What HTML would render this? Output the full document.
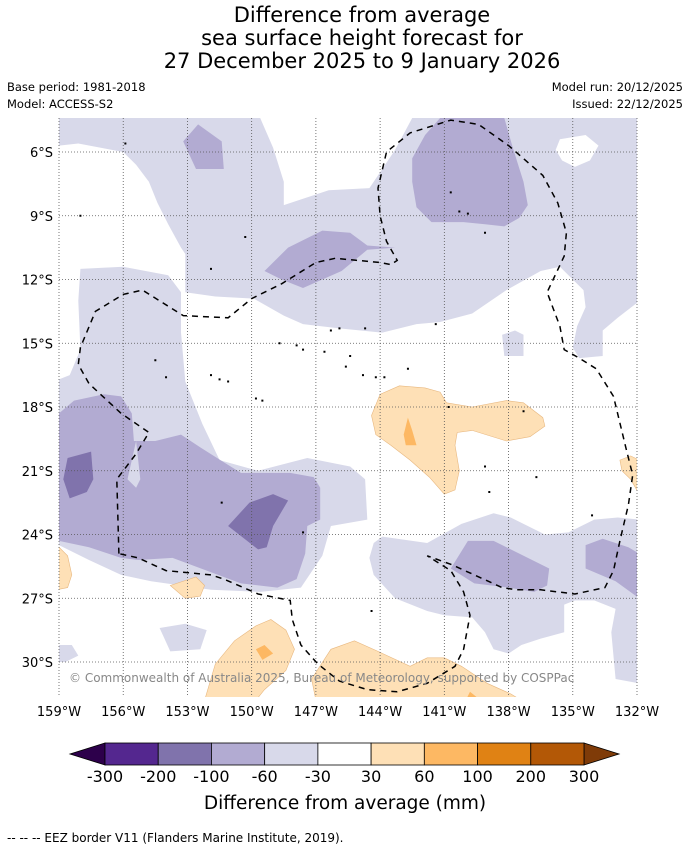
<!DOCTYPE html>
<html><head><meta charset="utf-8">
<style>
html,body{margin:0;padding:0;background:#fff;}
body{width:690px;height:850px;overflow:hidden;position:relative;font-family:"DejaVu Sans","Liberation Sans",sans-serif;}
svg text{font-family:"DejaVu Sans","Liberation Sans",sans-serif;}
</style></head>
<body>
<svg id="chart" width="690" height="850" viewBox="0 0 690 850" xmlns="http://www.w3.org/2000/svg">
  <rect x="0" y="0" width="690" height="850" fill="#fff"/>
  <g font-size="21" fill="#000" text-anchor="middle">
    <text x="362" y="22">Difference from average</text>
    <text x="362" y="45">sea surface height forecast for</text>
    <text x="362" y="68">27 December 2025 to 9 January 2026</text>
  </g>
  <text x="7" y="91" font-size="11.5">Base period: 1981-2018</text>
  <text x="7" y="108" font-size="11.5">Model: ACCESS-S2</text>
  <text x="683" y="91" font-size="11.5" text-anchor="end">Model run: 20/12/2025</text>
  <text x="683" y="108" font-size="11.5" text-anchor="end">Issued: 22/12/2025</text>
  <defs><clipPath id="mapclip"><rect x="59" y="118" width="578" height="579"/></clipPath></defs>
  <g id="map" clip-path="url(#mapclip)"></g>
  <g id="grid"></g>
  <g id="eez" clip-path="url(#mapclip)"></g>
  <g id="islands" clip-path="url(#mapclip)"></g>
  <text x="69" y="682" font-size="12" fill="#888">© Commonwealth of Australia 2025, Bureau of Meteorology, supported by COSPPac</text>
  <g id="xticks"></g>
  <g id="yticks"></g>
  <g id="cbar"></g>
  <text x="345" y="809" font-size="18.5" text-anchor="middle">Difference from average (mm)</text>
  <text x="7" y="842" font-size="12">--  --  -- EEZ border V11 (Flanders Marine Institute, 2019).</text>
</svg>
<script>
// ---- axis data ----
const lonTicks = [159,156,153,150,147,144,141,138,135,132];
const lonLabels = ["159°W","156°W","153°W","150°W","147°W","144°W","141°W","138°W","135°W","132°W"];
const latTicks = [6,9,12,15,18,21,24,27,30];
const latLabels = ["6°S","9°S","12°S","15°S","18°S","21°S","24°S","27°S","30°S"];
// ---- colorbar data ----
const cbLevels = [-300,-200,-100,-60,-30,30,60,100,200,300];
const cbLabels = ["-300","-200","-100","-60","-30","30","60","100","200","300"];
const cbColors = ["#54278f","#8073ac","#b2abd2","#d8d9ea","#ffffff","#fee0b6","#fdb863","#e08214","#b35806"];
const cbLowColor = "#2d004b";
const cbHighColor = "#7f3b08";
// ---- contour data: [lonW, latS] ----
const lightTop = [[159,4.4],[149.6,4.4],[149.0,5.8],[148.5,7.4],[148.5,8.5],[147.6,8.2],[146.4,7.8],[144.5,7.7],[144.1,7.1],[143.3,5.9],[142.5,4.4],[132,4.4],[132,13.1],[132.9,13.8],[133.6,14.4],[133.6,15.6],[134.7,15.7],[135.0,15.2],[134.8,14.2],[134.4,13.3],[134.5,12.5],[135.6,11.4],[136.5,11.6],[138.1,12.5],[139.7,13.6],[141.2,14.0],[142.3,14.1],[143.9,14.5],[145.9,14.3],[147.6,14.1],[148.5,13.7],[149.9,12.9],[151.7,12.8],[153.1,12.6],[153.1,10.8],[153.3,10.5],[153.9,9.4],[154.4,8.4],[154.8,7.4],[155.4,6.6],[156.0,6.0],[158.1,5.6],[159,5.7]];
const whiteTopRight = [[135.6,5.4],[134.4,5.2],[133.8,5.7],[134.2,6.4],[134.9,6.7],[135.5,6.4],[135.8,5.9]];
const lightSmall = [[138.3,14.6],[137.7,14.4],[137.3,14.6],[137.3,15.6],[138.2,15.6]];
const midTopLeft = [[153.2,5.5],[152.5,4.7],[151.4,5.5],[151.3,6.8],[151.9,6.8],[152.6,6.8]];
const midTopRight = [[141.2,4.4],[138.2,4.4],[137.8,5.8],[137.3,7.4],[137.1,8.5],[137.5,9.1],[138.2,9.5],[139.1,9.4],[140.1,9.3],[141.6,9.3],[142.3,8.6],[142.5,7.4],[142.5,6.3],[141.9,5.2]];
const midTongue = [[149.4,11.6],[148.3,10.5],[146.7,9.7],[145.4,9.8],[144.6,10.4],[143.3,10.5],[144.6,10.6],[145.8,11.6],[147.6,12.4],[148.6,12.0]];
const lightLeft = [[159,16.7],[158.5,16.5],[158.0,15.3],[158.1,13.0],[158.0,11.5],[156.0,11.4],[153.9,11.8],[153.3,12.6],[153.3,14.5],[153.1,16.8],[152.3,18.8],[151.5,20.5],[149.7,21.0],[147.4,20.4],[145.4,20.8],[144.7,21.4],[144.6,23.3],[146.3,23.6],[146.7,25.0],[147.7,26.5],[149.6,26.7],[151.9,26.6],[154.7,26.2],[156.1,25.9],[157.6,25.2],[159,24.5]];
const midLeft = [[159,18.3],[158.3,17.7],[156.9,17.4],[156.1,17.5],[155.6,18.3],[155.5,19.6],[154.5,19.6],[153.3,19.3],[152.4,19.9],[151.3,20.6],[150.5,21.1],[148.2,21.1],[147.1,21.3],[146.8,21.8],[146.8,23.3],[147.4,23.6],[147.5,24.9],[147.9,26.1],[148.8,26.5],[150.5,26.3],[152.1,25.7],[153.7,25.1],[155.3,25.2],[156.1,25.1],[157.6,24.6],[159,24.3]];
const lightNotch = [[155.4,19.6],[155.8,21.4],[155.4,21.8],[155.2,21.4]];
const darkLeft = [[158.6,20.4],[157.5,20.1],[157.4,21.4],[157.7,22.0],[158.5,22.3],[158.8,21.4]];
const darkCentre = [[151.1,23.6],[150.1,22.5],[149.0,22.1],[148.3,22.4],[149.0,23.6],[149.3,24.6],[149.7,24.7]];
const lightRight = [[144.5,25.1],[144.3,24.4],[143.9,24.1],[141.8,24.4],[140.2,23.5],[138.7,23.0],[137.9,23.2],[136.3,24.0],[135.2,23.9],[134.0,23.3],[132.9,23.2],[131.9,23.3],[131.9,31.0],[133.0,30.8],[133.2,28.6],[133.0,27.5],[134.0,27.1],[134.9,27.1],[135.4,27.3],[135.4,28.6],[136.5,28.9],[137.4,29.2],[138.0,29.6],[138.7,29.4],[139.1,28.6],[139.7,27.9],[141.0,27.8],[141.8,27.6],[143.3,27.0],[144.3,25.9]];
const midRightA = [[140.7,25.6],[139.9,24.3],[138.7,24.3],[136.1,25.6],[136.2,26.4],[136.8,26.7],[138.0,26.5],[139.6,26.3]];
const midRightB = [[134.4,24.5],[133.6,24.2],[132.4,24.6],[131.9,24.9],[131.9,27.0],[133.0,26.2],[134.4,25.6]];
const lightPatchA = [[154.3,28.4],[153.1,28.2],[152.1,28.5],[152.4,29.4],[153.8,29.5]];
const lightPatchB = [[159,29.2],[158.4,29.2],[158.1,29.7],[158.7,30.0],[159,30.0]];
const orangeCentre = [[144.4,18.4],[144.0,17.4],[143.1,17.0],[141.9,17.1],[141.2,17.3],[140.9,17.8],[139.7,18.0],[138.1,17.7],[137.3,17.8],[136.4,18.5],[136.3,18.9],[137.0,19.4],[138.1,19.6],[139.7,19.1],[140.4,19.2],[140.5,19.8],[140.3,21.0],[140.5,21.9],[141.0,22.1],[141.7,21.3],[142.6,20.5],[143.5,19.8],[144.2,19.3]];
const orangeCentreDark = [[142.7,18.5],[142.5,19.1],[142.3,19.8],[142.8,19.8],[142.9,19.3]];
const orangeEast = [[132.8,20.5],[132.3,20.3],[131.9,20.5],[131.9,22.1],[132.3,21.4],[132.7,21.0]];
const orangeWest = [[159.1,24.5],[158.6,25.0],[158.4,25.9],[158.6,26.5],[159.1,26.6]];
const orangeSmall = [[153.8,26.4],[152.6,26.0],[152.2,26.4],[152.4,26.9],[153.1,27.0]];
const orangeSouthA = [[152.2,31.8],[151.7,30.1],[150.8,29.0],[149.8,28.3],[149.1,28.0],[148.4,28.5],[148.0,29.4],[148.4,30.4],[149.4,31.3],[149.8,31.8]];
const orangeSouthADark = [[149.8,29.4],[149.4,29.2],[149.0,29.6],[149.5,29.9]];
const orangeSouthB = [[147.0,31.8],[147.2,30.8],[146.3,29.4],[145.2,29.0],[144.1,29.5],[142.6,30.2],[141.8,29.8],[141.0,29.8],[140.2,30.2],[139.0,31.0],[137.9,31.5],[137.4,31.8]];
const orangeSouthBDark = [[140.0,31.8],[139.8,31.4],[139.3,31.8]];
const eezLine = [[156.2,24.9],[156.3,21.4],[155.4,20.2],[154.8,19.2],[156.1,18.3],[157.6,16.9],[158.1,16.0],[158.0,15.2],[157.3,13.5],[156.0,12.7],[155.1,12.5],[153.2,13.7],[151.1,13.8],[150.0,12.9],[148.6,12.2],[147.0,11.2],[146.1,11.0],[144.0,11.2],[143.5,11.3],[143.2,11.1],[143.7,10.2],[144.0,9.0],[144.1,7.7],[143.7,6.0],[142.6,5.1],[140.7,4.5],[139.4,4.7],[138.0,5.7],[136.4,7.1],[135.7,8.4],[135.3,9.8],[135.4,10.9],[136.2,12.6],[135.6,14.2],[135.4,15.3],[134.7,15.7],[133.9,16.2],[133.1,17.5],[132.5,20.0],[132.2,21.2],[132.4,22.6],[132.8,24.3],[133.1,25.7],[133.5,26.5],[134.9,26.8],[136.5,26.6],[137.6,26.6],[138.3,26.5],[139.6,25.9],[140.7,25.4],[141.8,25.0],[140.7,25.7],[140.1,26.7],[139.8,27.8],[140.1,29.4],[140.5,30.2],[141.8,31.0],[143.2,31.4],[144.6,31.3],[145.9,30.9],[146.9,30.1],[147.7,29.2],[148.1,28.0],[148.2,27.1],[149.7,26.8],[151.3,26.1],[151.9,25.9],[154.0,25.7],[155.3,25.1],[156.2,24.9]];
const islandPts = [[155.9,5.6],[158.0,9.0],[150.3,10.0],[151.9,11.5],[154.5,15.8],[154.0,16.6],[151.9,16.5],[151.5,16.7],[151.1,16.8],[149.8,17.6],[149.5,17.7],[146.3,14.4],[145.9,14.3],[144.7,14.3],[148.7,15.0],[147.9,15.1],[147.6,15.3],[146.6,15.4],[145.4,15.6],[145.6,16.1],[144.8,16.5],[144.2,16.6],[143.8,16.6],[142.7,16.2],[141.4,14.1],[140.7,7.9],[140.3,8.8],[139.9,8.9],[139.1,9.8],[140.8,18.0],[139.1,20.8],[138.9,22.0],[137.3,18.2],[136.7,21.3],[134.1,23.1],[144.4,27.6],[151.4,22.5],[147.6,23.9]];

// ---- projection ----
const lonWest = 159, lonEast = 132, x0 = 59, x1 = 637;
const latTop = 6, latBot = 30, y0 = 152, y1 = 662;
function px(lonW){ return x0 + (lonWest - lonW) * (x1 - x0) / (lonWest - lonEast); }
function py(latS){ return y0 + (latS - latTop) * (y1 - y0) / (latBot - latTop); }
const NS = "http://www.w3.org/2000/svg";
function mk(tag, attrs){ const e = document.createElementNS(NS, tag); for (const k in attrs) e.setAttribute(k, attrs[k]); return e; }
function poly(parent, pts, fill, name, stroke){
  const d = pts.map((p,i)=>(i?"L":"M")+px(p[0]).toFixed(1)+","+py(p[1]).toFixed(1)).join("")+"Z";
  const e = mk("path", {d:d, fill:fill, stroke:stroke||"none", "stroke-width":0.6});
  
  
  parent.appendChild(e);
}
const map = document.getElementById("map");
const cL = cbColors[3], cM = cbColors[2], cD = cbColors[1], cO = cbColors[5], cO2 = cbColors[6];
poly(map, lightTop, cL, "contour-light-north");
poly(map, whiteTopRight, "#fff", "contour-neutral-northeast");
poly(map, lightSmall, cL, "contour-light-small");
poly(map, lightLeft, cL, "contour-light-west");
poly(map, lightRight, cL, "contour-light-southeast");
poly(map, lightPatchA, cL, "contour-light-patch-a");
poly(map, lightPatchB, cL, "contour-light-patch-b");
poly(map, midTopLeft, cM, "contour-mid-northwest");
poly(map, midTopRight, cM, "contour-mid-northeast");
poly(map, midTongue, cM, "contour-mid-tongue");
poly(map, midLeft, cM, "contour-mid-west");
poly(map, lightNotch, cL, "contour-light-notch");
poly(map, darkLeft, cD, "contour-dark-west");
poly(map, darkCentre, cD, "contour-dark-centre");
poly(map, midRightA, cM, "contour-mid-southeast-a");
poly(map, midRightB, cM, "contour-mid-southeast-b");
poly(map, orangeCentre, cO, "contour-orange-centre", "#e8b880");
poly(map, orangeCentreDark, cO2, "contour-orange-centre-dark");
poly(map, orangeEast, cO, "contour-orange-east", "#e8b880");
poly(map, orangeWest, cO, "contour-orange-west", "#e8b880");
poly(map, orangeSmall, cO, "contour-orange-small", "#e8b880");
poly(map, orangeSouthA, cO, "contour-orange-south-a", "#e8b880");
poly(map, orangeSouthADark, cO2, "contour-orange-south-a-dark");
poly(map, orangeSouthB, cO, "contour-orange-south-b", "#e8b880");
poly(map, orangeSouthBDark, cO2, "contour-orange-south-b-dark");

// grid + ticks
const grid = document.getElementById("grid");
const xt = document.getElementById("xticks");
const yt = document.getElementById("yticks");
lonTicks.forEach((lw,i)=>{
  const x = px(lw);
  const l = mk("line",{x1:x,y1:118,x2:x,y2:697,stroke:"#555","stroke-width":0.8,"stroke-dasharray":"1,2"});
  
  
  grid.appendChild(l);
  const t = mk("text",{x:x,y:716,"font-size":13,"text-anchor":"middle"});
  t.textContent = lonLabels[i];
  
  
  xt.appendChild(t);
});
latTicks.forEach((ls,i)=>{
  const y = py(ls);
  const l = mk("line",{x1:59,y1:y,x2:637,y2:y,stroke:"#555","stroke-width":0.8,"stroke-dasharray":"1,2"});
  
  
  grid.appendChild(l);
  const t = mk("text",{x:53,y:y+5,"font-size":13,"text-anchor":"end"});
  t.textContent = latLabels[i];
  
  
  yt.appendChild(t);
});

// EEZ
const eez = document.getElementById("eez");
const ed = eezLine.map((p,i)=>(i?"L":"M")+px(p[0]).toFixed(1)+","+py(p[1]).toFixed(1)).join("");
const ep = mk("path",{d:ed,fill:"none",stroke:"#000","stroke-width":1.5,"stroke-dasharray":"6,5"});


eez.appendChild(ep);

// islands
const isl = document.getElementById("islands");
islandPts.forEach(p=>{
  const c = mk("rect",{x:px(p[0])-1,y:py(p[1])-1,width:2,height:2,fill:"#000"});
  
  
  isl.appendChild(c);
});

// colorbar
const cb = document.getElementById("cbar");
const cbx0 = 105, cbx1 = 584, cby = 743, cbh = 22, triW = 35;
const nSeg = cbLevels.length - 1;
function cbX(i){ return cbx0 + i * (cbx1 - cbx0) / nSeg; }
const lt = mk("path",{d:`M${cbx0},${cby}L${cbx0-triW},${cby+cbh/2}L${cbx0},${cby+cbh}Z`,fill:cbLowColor,stroke:"#000","stroke-width":0.8});


cb.appendChild(lt);
const rt = mk("path",{d:`M${cbx1},${cby}L${cbx1+triW},${cby+cbh/2}L${cbx1},${cby+cbh}Z`,fill:cbHighColor,stroke:"#000","stroke-width":0.8});


cb.appendChild(rt);
cbColors.forEach((c,i)=>{
  const r = mk("rect",{x:cbX(i),y:cby,width:cbX(i+1)-cbX(i),height:cbh,fill:c,stroke:"#000","stroke-width":0.8});
  
  
  cb.appendChild(r);
});
cbLevels.forEach((v,i)=>{
  const t = mk("text",{x:cbX(i),y:782,"font-size":16,"text-anchor":"middle"});
  t.textContent = cbLabels[i];
  
  
  cb.appendChild(t);
});
</script>
</body></html>
